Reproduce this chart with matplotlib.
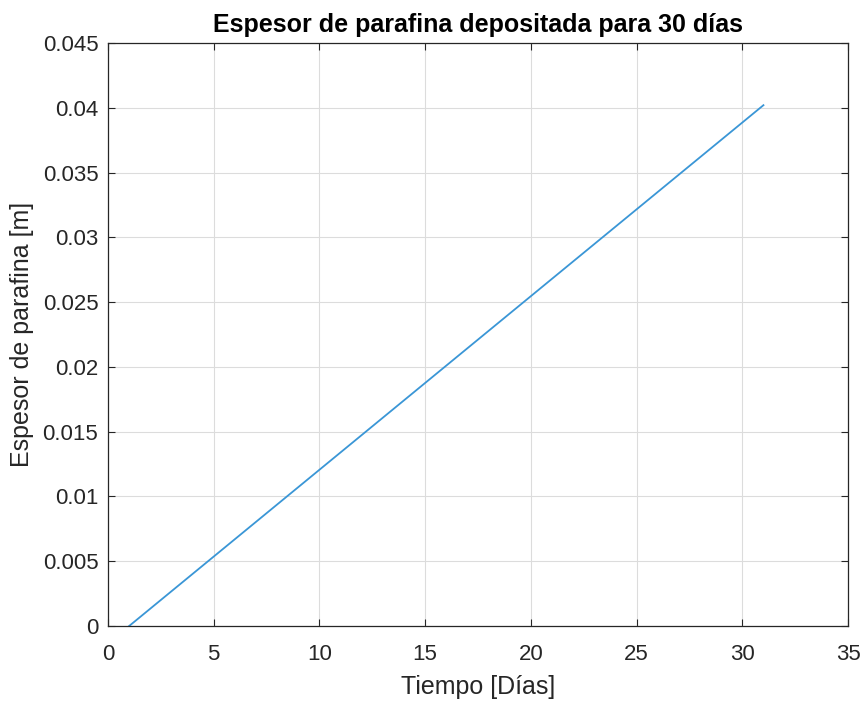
import numpy as np
import matplotlib.pyplot as plt

plt.rcParams['font.family'] = ['Liberation Sans', 'DejaVu Sans']

# valores
tiempo = [1.0, 5.0, 10.0, 15.0, 20.0, 25.0, 31.0]
espesor = [0.0, 0.00536, 0.01206, 0.01876, 0.02546, 0.03216, 0.0402]

xticks = [0, 5, 10, 15, 20, 25, 30, 35]
yticks = [0, 0.005, 0.01, 0.015, 0.02, 0.025, 0.03, 0.035, 0.04, 0.045]
ylabels = ['0', '0.005', '0.01', '0.015', '0.02', '0.025', '0.03', '0.035', '0.04', '0.045']

fig = plt.figure(figsize=(8.64, 7.06), dpi=100)
ax = fig.add_axes([0.125, 0.1133, 0.8565, 0.8258])

ax.plot(tiempo, espesor, color='#3A96D6', lw=1.3)

ax.set_xlim(0, 35)
ax.set_ylim(0, 0.045)
ax.set_xticks(xticks)
ax.set_yticks(yticks)
ax.set_yticklabels(ylabels)
ax.grid(True, color='#dcdcdc', lw=0.8)
ax.set_axisbelow(True)
ax.tick_params(direction='in', length=5, labelsize=16, colors='#262626',
               top=True, right=True)
ax.tick_params(axis='y', pad=7)
ax.tick_params(axis='x', pad=13)
for s in ax.spines.values():
    s.set_color('#262626')
    s.set_linewidth(0.9)

ax.set_xlabel('Tiempo [Días]', fontsize=18, color='#262626', labelpad=7)
ax.set_ylabel('Espesor de parafina [m]', fontsize=18, color='#262626', labelpad=6)
ax.set_title('Espesor de parafina depositada para 30 días',
             fontsize=18, fontweight='bold', pad=8)

plt.savefig('out.png', dpi=100)
